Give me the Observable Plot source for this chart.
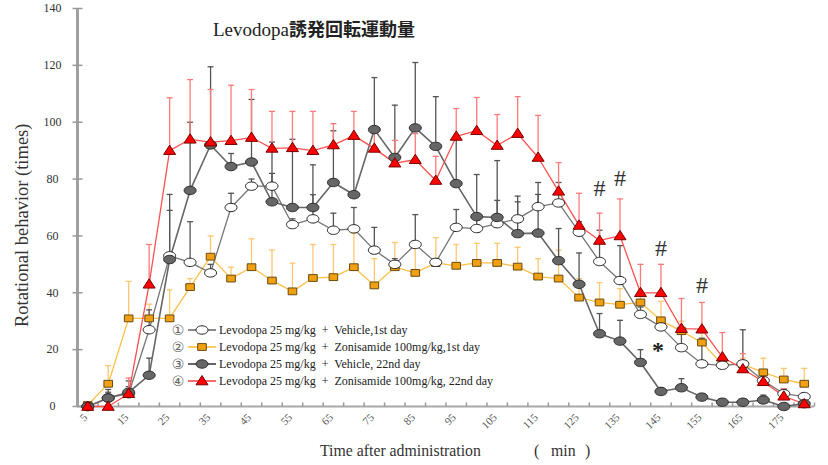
<!DOCTYPE html>
<html><head><meta charset="utf-8">
<script src="https://cdn.jsdelivr.net/npm/d3@7"></script>
<script src="https://cdn.jsdelivr.net/npm/@observablehq/plot@0.6"></script>
<style>
body{margin:0;background:#fff;}
#wrap{position:relative;width:828px;height:465px;overflow:hidden;font-family:"Liberation Serif","Times New Roman",serif;color:#333;}
#wrap > svg{position:absolute;left:0;top:0;}
.abs{position:absolute;white-space:pre;line-height:1;}
#title{left:213px;top:19px;font-size:19px;color:#222;}
#title .jp{font-family:"Noto Sans CJK JP",sans-serif;font-weight:700;font-size:18px;}
#ylab{left:-118px;top:216px;width:280px;text-align:center;font-size:18.5px;transform:rotate(-90deg);}
#xlab{left:320px;top:443px;font-size:15.8px;}
.mn{top:443px;font-size:15.8px;}
</style>
</head><body>
<div id="wrap">
  <div id="title" class="abs">Levodopa<span class="jp">誘発回転運動量</span></div>
  <div id="ylab" class="abs">Rotational behavior (times)</div>
  <div id="xlab" class="abs">Time after administration</div>
  <div class="abs mn" style="left:534px;">(</div>
  <div class="abs mn" style="left:551px;">min</div>
  <div class="abs mn" style="left:585px;">)</div>
</div>
<script>
// ---- data ----
const times = [5,10,15,20,25,30,35,40,45,50,55,60,65,70,75,80,85,90,95,100,105,110,115,120,125,130,135,140,145,150,155,160,165,170,175,180];
const xTickLabels = [5,15,25,35,45,55,65,75,85,95,105,115,125,135,145,155,165,175];
const yTickLabels = [0,20,40,60,80,100,120,140];

// (1) Levodopa + Vehicle, 1st day (white circles)
const veh1Mean = [0,3,4.5,27,53,50.7,47,70,77.5,77.5,64,66,62,62.5,55,50,57,50.7,63,62.6,64.3,66,70.3,71.6,61.3,51,44.3,32.4,28,20.7,15,14.5,15,9.1,4.5,3.5];
const veh1Top  = [0.5,6,7,34,69,65,50,75,80,82,66,74.5,68,70,63,52,67.5,52,69.3,66,72.5,72,74.6,78.8,65,62,56.6,35,31,28,24,16,27,11,6,4.5];
// (2) Levodopa + Zonisamide, 1st day (orange squares)
const zon1Mean = [0.5,8,31,31,31,42,52.7,45,49,44.3,40.5,45.2,45.5,49,42.6,49,47,50.5,49.5,50.5,50.5,49.2,45.7,45,38.3,36.6,35.8,36.6,30.3,26.5,22.5,14.8,14.8,12,9.5,8];
const zon1Top  = [1,14.4,44,36,41,45,60,49,59,55,50.4,57,57,61,52,57.7,57,59.4,57,57.4,57.4,56,52,55,45,43.6,41.5,40.8,37,30,28,18,17,17,13.4,13.4];
// (3) Levodopa + Vehicle, 22nd day (grey circles)
const veh22Mean = [0,3,5,11,51.7,76,92,84.4,86,72,70,70,78.8,74.5,97.4,87.6,98,91.5,78.4,66.8,66.5,60.8,61,51.3,43,25.6,23,15.5,5.3,6.6,3.3,1.5,1.5,2.3,0,1];
const veh22Top  = [0.5,5,9,17,74.6,100,119.5,89,108,93,94,85,97,95,115.7,106,121,109,95.3,81.6,86.5,74,78.8,62.6,54,32.7,30.3,20,6.5,9.8,4.5,2.5,2.5,4,1,2];
// (4) Levodopa + Zonisamide, 22nd day (red triangles)
const zon22Mean = [0,0,4.5,43,90,94,93,93.5,94.6,90.8,91,90,92,95.3,90.8,85.6,86.8,79.5,95,97,91.8,96,87.6,75.7,63.7,58.4,60,40,40,27.4,27.2,17.4,13.2,8.7,3.6,0.9];
const zon22Top  = [0.5,0.5,10,57,108.6,115,111.5,113,111.5,103.8,103.8,103.8,99.5,103.8,98,93.6,96,88,104.8,108.7,102.7,109,102.4,85.8,75,68,73,50,50,38,36.6,26,18.6,10.5,6.3,2];

const legendLabels = [
  "Levodopa 25 mg/kg  +  Vehicle,1st day",
  "Levodopa 25 mg/kg  +  Zonisamide 100mg/kg,1st day",
  "Levodopa 25 mg/kg  +  Vehicle, 22nd day",
  "Levodopa 25 mg/kg  +  Zonisamide 100mg/kg, 22nd day"
];
const legendNums = ["①","②","③","④"];

// significance marks
const hashTimes = [130,135,145,155];
const hashValues = [76.7,80.2,55.6,42.6];
const starTimes = [145];
const starValues = [22];

// ---- symbols ----
const k = 0.5523;
const ellipse = {draw(ctx){const rx=6, ry=4.2;
  ctx.moveTo(rx,0);
  ctx.bezierCurveTo(rx,ry*k,rx*k,ry,0,ry);
  ctx.bezierCurveTo(-rx*k,ry,-rx,ry*k,-rx,0);
  ctx.bezierCurveTo(-rx,-ry*k,-rx*k,-ry,0,-ry);
  ctx.bezierCurveTo(rx*k,-ry,rx,-ry*k,rx,0);
  ctx.closePath();}};
const square = {draw(ctx){ctx.moveTo(-4.3,-3.4);ctx.lineTo(4.3,-3.4);ctx.lineTo(4.3,3.4);ctx.lineTo(-4.3,3.4);ctx.closePath();}};
const triangle = {draw(ctx){ctx.moveTo(0,-5.5);ctx.lineTo(6,3.8);ctx.lineTo(-6,3.8);ctx.closePath();}};
const cap = {draw(ctx){ctx.moveTo(-3,0);ctx.lineTo(3,0);}};
const vtick = {draw(ctx){ctx.moveTo(0,0);ctx.lineTo(0,-4);}};
const htick = {draw(ctx){ctx.moveTo(-5,0);ctx.lineTo(5,0);}};

const series = [
  {name:"zon1", mean:zon1Mean, top:zon1Top, line:"#ffc04a", lw:1.3, bar:"#ffc870", symbol:square, fill:"#f0a010", stroke:"#6a4a10"},
  {name:"veh1", mean:veh1Mean, top:veh1Top, line:"#777", lw:1.3, bar:"#555", symbol:ellipse, fill:"#ffffff", stroke:"#222"},
  {name:"veh22", mean:veh22Mean, top:veh22Top, line:"#666", lw:1.6, bar:"#555", symbol:ellipse, fill:"#666", stroke:"#2a2a2a"},
  {name:"zon22", mean:zon22Mean, top:zon22Top, line:"#ff5050", lw:1.3, bar:"#ff7a7a", symbol:triangle, fill:"#ff0000", stroke:"#700"}
];
const rowsOf = s => times.map((t,i)=>({t, y:s.mean[i], top:s.top[i]}));

const xDomain = [times[0]-2.5, times[times.length-1]+2.5];
const xBounds = times.map(t=>t+2.5);

const marks = [
  Plot.ruleY([0], {stroke:"#a8a8a8", strokeWidth:2}),
  Plot.dot(xBounds, {x:d=>d, y:0, symbol:vtick, stroke:"#999", fill:"none"}),
  Plot.ruleX([xDomain[0]], {stroke:"#a0a0a0", strokeWidth:3}),
  Plot.dot(yTickLabels, {y:d=>d, frameAnchor:"left", symbol:htick, stroke:"#999", fill:"none"}),
  Plot.text(yTickLabels, {y:d=>d, frameAnchor:"left", dx:-25, text:d=>String(d), textAnchor:"middle", fontSize:12, fill:"#333"}),
  Plot.text(xTickLabels, {x:d=>d, y:0, dy:9, dx:-2, rotate:-45, textAnchor:"end", text:d=>String(d), fontSize:11, fill:"#555"})
];
for (const s of series) {
  const rows = rowsOf(s);
  marks.push(Plot.ruleX(rows, {x:"t", y1:"y", y2:"top", stroke:s.bar, strokeWidth:1.3}));
  marks.push(Plot.dot(rows, {x:"t", y:"top", symbol:cap, stroke:s.bar, fill:"none", strokeWidth:1.3}));
}
for (const s of series) {
  marks.push(Plot.line(rowsOf(s), {x:"t", y:"y", stroke:s.line, strokeWidth:s.lw}));
}
for (const s of series) {
  marks.push(Plot.dot(rowsOf(s), {x:"t", y:"y", symbol:s.symbol, fill:s.fill, stroke:s.stroke, strokeWidth:1}));
}
marks.push(Plot.text(hashTimes.map((t,i)=>({t, v:hashValues[i]})), {x:"t", y:"v", text:()=>"#", fontSize:24, fill:"#333"}));
marks.push(Plot.text(starTimes.map((t,i)=>({t, v:starValues[i]})), {x:"t", y:"v", text:()=>"*", fontSize:24, fontWeight:"bold", dy:6, dx:-3, fill:"#222", stroke:"none"}));

const chart = Plot.plot({
  width:828, height:465,
  marginLeft:77, marginRight:14, marginTop:8, marginBottom:59,
  x:{domain:xDomain, axis:null},
  y:{domain:[0,140], axis:null},
  style:{fontFamily:"'Liberation Serif','Times New Roman',serif", background:"transparent", overflow:"visible"},
  marks
});
const wrap = document.getElementById("wrap");
wrap.insertBefore(chart, wrap.firstChild);

// ---- legend overlay ----
const leg = d3.select(wrap).append("svg").attr("width",828).attr("height",465).style("pointer-events","none");
const rowY = [330,347,364,381];
const order = ["veh1","zon1","veh22","zon22"];
order.map(n=>series.find(s=>s.name===n)).forEach((s,i)=>{
  const g = leg.append("g").attr("transform",`translate(0,${rowY[i]})`);
  g.append("text").attr("x",178).attr("y",5).attr("text-anchor","middle").attr("font-family","'DejaVu Sans'").attr("font-size",14).attr("fill","#666").text(legendNums[i]);
  g.append("line").attr("x1",188).attr("x2",216).attr("y1",0).attr("y2",0).attr("stroke",s.line).attr("stroke-width",s.lw+0.4);
  g.append("path").attr("transform","translate(202,0)").attr("d",d3.symbol(s.symbol)()).attr("fill",s.fill).attr("stroke",s.stroke).attr("stroke-width",1);
  g.append("text").attr("x",219).attr("y",4).attr("font-family","'Liberation Serif',serif").attr("font-size",12).attr("fill","#222").attr("xml:space","preserve").style("white-space","pre").text(legendLabels[i]);
});
</script>
</body></html>
